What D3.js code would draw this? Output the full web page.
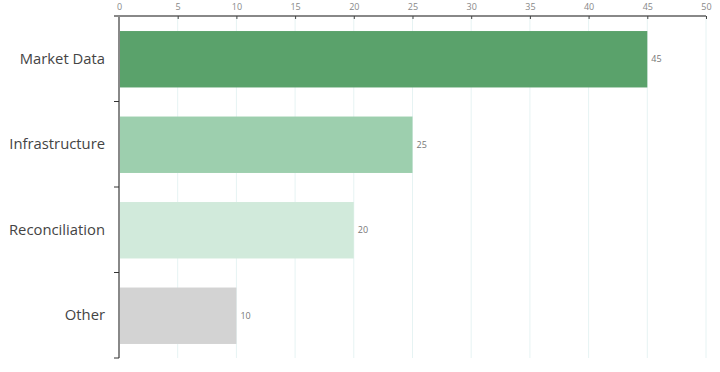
<!DOCTYPE html>
<html>
<head>
<meta charset="utf-8">
<script src="https://cdn.jsdelivr.net/npm/d3@7"></script>
<style>
  body { margin: 0; background: #fff; }
  svg { display: block; font-family: "Open Sans", "Liberation Sans", Arial, sans-serif; }
</style>
</head>
<body>
<div id="chart"></div>
<script>
// Chart data
const categories = ["Market Data", "Infrastructure", "Reconciliation", "Other"];
const values = [45, 25, 20, 10];
const colors = ["#5aa26b", "#9dcfae", "#d1eadb", "#d3d3d3"];
const xTicks = [0, 5, 10, 15, 20, 25, 30, 35, 40, 45, 50];

const width = 720, height = 372;
const margin = { top: 16, right: 14, bottom: 14, left: 119 };

const svg = d3.select("#chart")
    .append("svg")
    .attr("width", width)
    .attr("height", height);

const x = d3.scaleLinear()
    .domain([0, 50])
    .range([margin.left, width - margin.right]);

const y = d3.scaleBand()
    .domain(categories)
    .range([margin.top, height - margin.bottom])
    .paddingInner(0.34)
    .paddingOuter(0.17);

const yBounds = d3.scaleBand()
    .domain(categories)
    .range([margin.top, height - margin.bottom]);

// Vertical gridlines
svg.append("g")
    .selectAll("line")
    .data(xTicks.slice(1))
    .join("line")
    .attr("x1", d => x(d)).attr("x2", d => x(d))
    .attr("y1", margin.top).attr("y2", height - margin.bottom)
    .attr("stroke", "#e6f3f3")
    .attr("stroke-width", 1);

// Bars
svg.append("g")
    .selectAll("rect")
    .data(categories)
    .join("rect")
    .attr("x", x(0))
    .attr("y", d => y(d) + 0.5)
    .attr("width", (d, i) => x(values[i]) - x(0))
    .attr("height", y.bandwidth())
    .attr("fill", (d, i) => colors[i]);

// Value labels
svg.append("g")
    .selectAll("text")
    .data(categories)
    .join("text")
    .attr("x", (d, i) => x(values[i]) + 4)
    .attr("y", d => y(d) + y.bandwidth() / 2 + 0.5)
    .attr("dy", "0.35em")
    .attr("font-size", 9)
    .attr("fill", "#777")
    .text((d, i) => values[i]);

// Top axis
const xAxis = svg.append("g")
    .attr("transform", `translate(0,${margin.top})`)
    .call(d3.axisTop(x).tickValues(xTicks).tickSize(-3).tickPadding(6));
xAxis.select(".domain").attr("stroke", "#888").attr("stroke-width", 2)
    .attr("d", `M${x(0) - 5},0H${x(50)}`);
xAxis.selectAll(".tick line").attr("stroke", "#444");
xAxis.selectAll(".tick text").attr("font-size", 9).attr("fill", "#888")
    .attr("font-family", "Open Sans, Liberation Sans, Arial, sans-serif");

// Left axis with ticks on band boundaries
const yAxis = svg.append("g");
yAxis.append("line")
    .attr("x1", x(0)).attr("x2", x(0))
    .attr("y1", margin.top).attr("y2", height - margin.bottom)
    .attr("stroke", "#888").attr("stroke-width", 2);
yAxis.selectAll("line.tick")
    .data(categories)
    .join("line")
    .attr("class", "tick")
    .attr("x1", x(0) - 5).attr("x2", x(0))
    .attr("y1", d => yBounds(d) + yBounds.bandwidth())
    .attr("y2", d => yBounds(d) + yBounds.bandwidth())
    .attr("stroke", "#333").attr("stroke-width", 1);
yAxis.selectAll("text")
    .data(categories)
    .join("text")
    .attr("x", x(0) - 14)
    .attr("y", d => yBounds(d) + yBounds.bandwidth() / 2)
    .attr("dy", "0.35em")
    .attr("text-anchor", "end")
    .attr("font-size", 14.8)
    .attr("fill", "#444")
    .text(d => d);
</script>
</body>
</html>
